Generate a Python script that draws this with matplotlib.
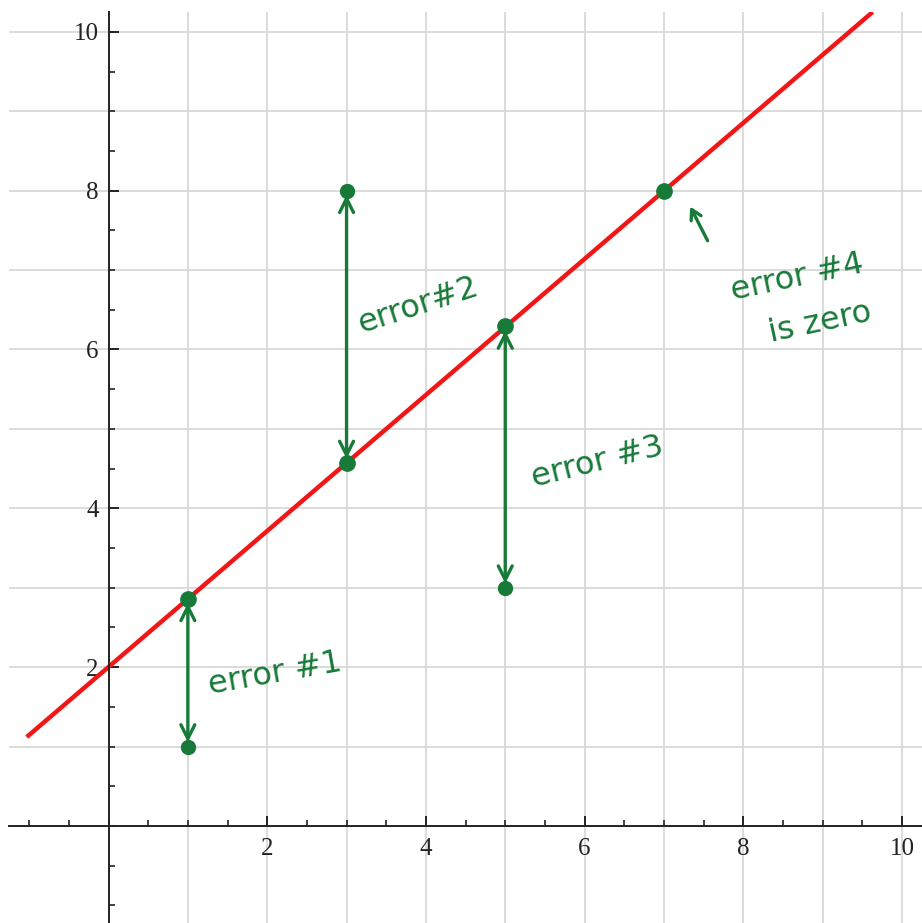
import matplotlib
matplotlib.use("Agg")
import matplotlib.pyplot as plt

# data
data_x = [1, 3, 5, 7]
data_y = [1, 8, 3, 8]
fit_y = [2.86, 4.57, 6.29, 8.0]      # points on the red line
line_x = [-1.03, 9.63]
line_y = [1.12, 10.25]

tick_labels = [2, 4, 6, 8, 10]

notes = ["error #1", "error#2", "error #3", "error #4", "is zero"]
note_x = [2.10, 3.90, 6.16, 8.68, 8.97]
note_y = [1.92, 6.55, 4.58, 6.90, 6.33]
note_rot = [10, 18, 14, 12, 12]

green = "#187a38"
red = "#f21616"

W, H = 922, 923
fig = plt.figure(figsize=(W / 100, H / 100), dpi=100)
# plot area leaves a small blank strip at the left and top
ax = fig.add_axes([9 / W, 0, (W - 9) / W, (H - 12) / H])
ax.set_xlim(-1.254, 10.252)
ax.set_ylim(-1.222, 10.25)

# axes through the origin
ax.spines["left"].set_position(("data", 0))
ax.spines["bottom"].set_position(("data", 0))
ax.spines["right"].set_visible(False)
ax.spines["top"].set_visible(False)
for s in ["left", "bottom"]:
    ax.spines[s].set_linewidth(1.4)
    ax.spines[s].set_color("#222222")

# grid every 1, ticks every 0.5, labels every 2
ax.set_xticks(tick_labels)
ax.set_yticks(tick_labels)
ax.set_xticks([i * 0.5 for i in range(-2, 21)], minor=True)
ax.set_yticks([i * 0.5 for i in range(-2, 21)], minor=True)
ax.set_xticklabels([str(t) for t in tick_labels])
ax.set_yticklabels([str(t) for t in tick_labels])
ax.tick_params(which="major", direction="in", length=7, width=1.4, color="#222222",
               labelsize=18, pad=9)
ax.tick_params(which="minor", direction="in", length=4, width=1.2, color="#222222")
ax.tick_params(axis="y", pad=7)
for lab in ax.get_xticklabels() + ax.get_yticklabels():
    lab.set_fontfamily("Liberation Serif")
    lab.set_color("#222222")

for g in range(1, 11):
    ax.axvline(g, color="#d9d9d9", lw=1.3, zorder=0)
    ax.axhline(g, color="#d9d9d9", lw=1.3, zorder=0)

# fitted line
ax.plot(line_x, line_y, color=red, lw=3.2, zorder=2, solid_capstyle="butt")

# error arrows (double headed)
for i in range(3):
    ax.annotate("", xy=(data_x[i], data_y[i]), xytext=(data_x[i], fit_y[i]),
                arrowprops=dict(arrowstyle="<->,head_length=1.0,head_width=0.5",
                                color=green, lw=2.4, shrinkA=3, shrinkB=3),
                zorder=3)

# small arrow pointing to the 4th point
ax.annotate("", xy=(7.33, 7.80), xytext=(7.55, 7.37),
            arrowprops=dict(arrowstyle="->,head_length=0.7,head_width=0.4",
                            color=green, lw=2.4, shrinkA=0, shrinkB=0),
            zorder=3)

ax.plot(data_x, data_y, "o", color=green, ms=10, zorder=4)
ax.plot(data_x, fit_y, "o", color=green, ms=11, zorder=4)

for t, x, y, r in zip(notes, note_x, note_y, note_rot):
    ax.text(x, y, t, color=green, fontsize=23, rotation=r, rotation_mode="anchor",
            ha="center", va="center", family="DejaVu Sans", fontweight="medium")

fig.savefig("out.png", dpi=100)
